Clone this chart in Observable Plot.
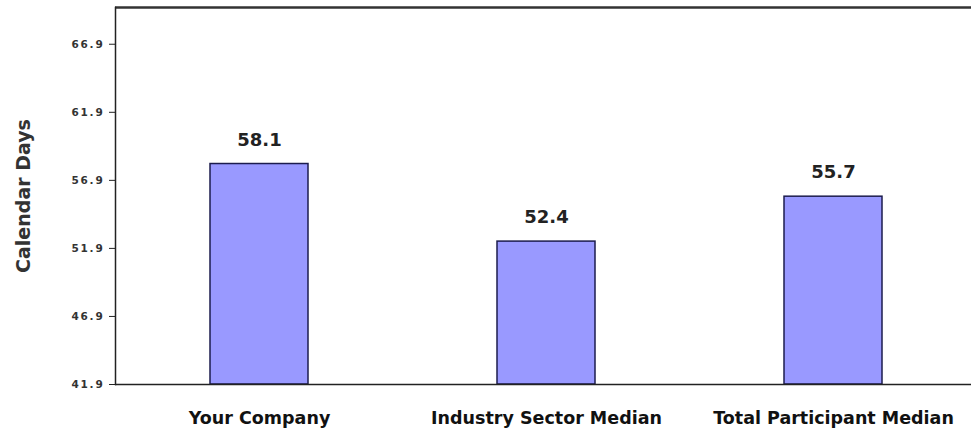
<!DOCTYPE html>
<html>
<head>
<meta charset="utf-8">
<script src="https://cdn.jsdelivr.net/npm/d3@7"></script>
<script src="https://cdn.jsdelivr.net/npm/@observablehq/plot@0.6"></script>
<style>
  html, body { margin: 0; padding: 0; background: #fff; overflow: hidden; }
  g[aria-label="y-axis tick label"] text { letter-spacing: 1.8px; }
</style>
</head>
<body>
<div id="chart"></div>
<script>
const categories = ["Your Company", "Industry Sector Median", "Total Participant Median"];
const values = [58.1, 52.4, 55.7];
const yTicks = [41.9, 46.9, 51.9, 56.9, 61.9, 66.9];
const yMin = 41.9;
const yMax = 69.6;
const yLabel = "Calendar Days";

const data = categories.map((c, i) => ({cat: c, v: values[i]}));
const font = "'DejaVu Sans', Verdana, sans-serif";

const chart = Plot.plot({
  width: 971,
  height: 435,
  marginLeft: 115,
  marginRight: 0,
  marginTop: 7,
  marginBottom: 51,
  style: {fontFamily: font, background: "#fff", color: "#111"},
  x: {domain: categories, range: [114.5, 976.5], paddingInner: 0.66, paddingOuter: 0.33, label: null},
  y: {domain: [yMin, yMax], label: null},
  marks: [
    Plot.barY(data, {x: "cat", y1: yMin, y2: "v", fill: "#9999ff", stroke: "#1c1c4e", strokeWidth: 1.5}),
    Plot.text(data, {x: "cat", y: "v", text: d => d.v.toFixed(1), dy: -24, fontSize: 18, fontWeight: "bold", fill: "#222"}),
    Plot.axisY({ticks: yTicks, tickFormat: d => d.toFixed(1), tickSize: 6, tickPadding: 5, fontSize: 10.5, fontWeight: "bold", fill: "#333", label: null, stroke: "#222"}),
    Plot.axisX({tickSize: 0, tickPadding: 27, fontSize: 17.5, fontWeight: "bold", fill: "#111", label: null}),
    Plot.ruleY([yMin], {stroke: "#222", strokeWidth: 1.5}),
    Plot.ruleY([yMax], {stroke: "#333", strokeWidth: 2.5}),
    Plot.frame({anchor: "left", stroke: "#222", strokeWidth: 1.5}),
    Plot.text([yLabel], {frameAnchor: "left", dx: -92, rotate: -90, textAnchor: "middle", fontSize: 19, fontWeight: "bold", fill: "#333"})
  ]
});
document.getElementById("chart").appendChild(chart);
</script>
</body>
</html>
